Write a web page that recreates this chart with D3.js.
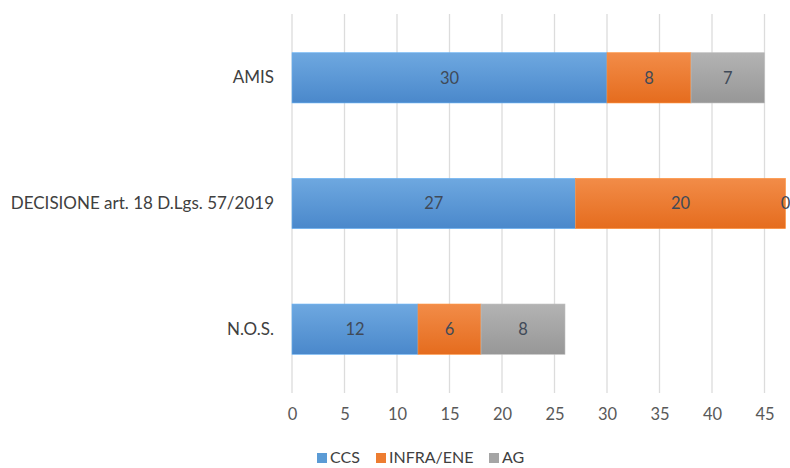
<!DOCTYPE html>
<html><head><meta charset="utf-8">
<script src="https://cdn.jsdelivr.net/npm/d3@7"></script>
<style>body{margin:0;background:#fff;} svg{display:block;}</style>
</head><body>
<svg id="c" width="790" height="468"></svg>
<script>
const categories = ["AMIS", "DECISIONE art. 18 D.Lgs. 57/2019", "N.O.S."];
const seriesNames = ["CCS", "INFRA/ENE", "AG"];
const ccs = [30, 27, 12];
const infra = [8, 20, 6];
const ag = [7, 0, 8];
const xTicks = [0, 5, 10, 15, 20, 25, 30, 35, 40, 45];
const colors = ["#5b9bd5", "#ed7d31", "#a5a5a5"];
const gradStops = [["#6ea8e0", "#4a88cb"], ["#f28c48", "#e56c1e"], ["#b3b3b3", "#979797"]];

const svg = d3.select("#c");
const font = "Lato, 'Open Sans', sans-serif";
const x = d3.scaleLinear().domain([0, 50]).range([292, 817]);
const y = d3.scaleBand().domain(categories).range([15, 392]).paddingInner(0.6).paddingOuter(0.3);

const defs = svg.append("defs");
gradStops.forEach((g, i) => {
  const lg = defs.append("linearGradient").attr("id", "g" + i).attr("x1", 0).attr("y1", 0).attr("x2", 0).attr("y2", 1);
  lg.append("stop").attr("offset", "0%").attr("stop-color", g[0]);
  lg.append("stop").attr("offset", "100%").attr("stop-color", g[1]);
});

// gridlines
svg.append("g").selectAll("line").data(xTicks).join("line")
  .attr("x1", d => x(d)).attr("x2", d => x(d))
  .attr("y1", 14).attr("y2", 393)
  .attr("stroke", "#dcdcdc").attr("stroke-width", 1.3);

// x axis labels
const xAxis = d3.axisBottom(x).tickValues(xTicks).tickSize(0).tickPadding(0);
const gx = svg.append("g").attr("transform", "translate(0,403)").call(xAxis);
gx.select(".domain").remove();
gx.selectAll("text").attr("font-family", font).attr("font-size", 16.5).attr("fill", "#595959").attr("dy", "1.0em");

// y axis labels
const yAxis = d3.axisLeft(y).tickSize(0).tickPadding(0);
const gy = svg.append("g").attr("transform", "translate(274,0)").call(yAxis);
gy.select(".domain").remove();
gy.selectAll("text").attr("font-family", font).attr("font-size", 17).attr("fill", "#404040");

// stacked data
const rows = categories.map((c, i) => ({cat: c, CCS: ccs[i], "INFRA/ENE": infra[i], AG: ag[i]}));
const stack = d3.stack().keys(seriesNames)(rows);

stack.forEach((layer, si) => {
  const g = svg.append("g");
  g.selectAll("rect").data(layer).join("rect")
    .attr("x", d => x(d[0])).attr("width", d => x(d[1]) - x(d[0]))
    .attr("y", d => y(d.data.cat)).attr("height", y.bandwidth())
    .attr("fill", `url(#g${si})`)
    .attr("stroke", d3.color(colors[si]).brighter(0.4)).attr("stroke-width", 0.6);
  g.selectAll("text").data(layer).join("text")
    .attr("x", d => (x(d[0]) + x(d[1])) / 2)
    .attr("y", d => y(d.data.cat) + y.bandwidth() / 2)
    .attr("dy", "0.36em").attr("text-anchor", "middle")
    .attr("font-family", font).attr("font-size", 16.5).attr("fill", "#404a58")
    .text(d => d[1] - d[0]);
});

// legend
const legX = [317, 376, 489];
const lg = svg.append("g");
seriesNames.forEach((s, i) => {
  lg.append("rect").attr("x", legX[i]).attr("y", 453).attr("width", 10).attr("height", 10).attr("fill", colors[i]);
  lg.append("text").attr("x", legX[i] + 13).attr("y", 457).attr("dy", "0.36em")
    .attr("font-family", font).attr("font-size", 16).attr("fill", "#404040").text(s);
});
</script>
</body></html>
